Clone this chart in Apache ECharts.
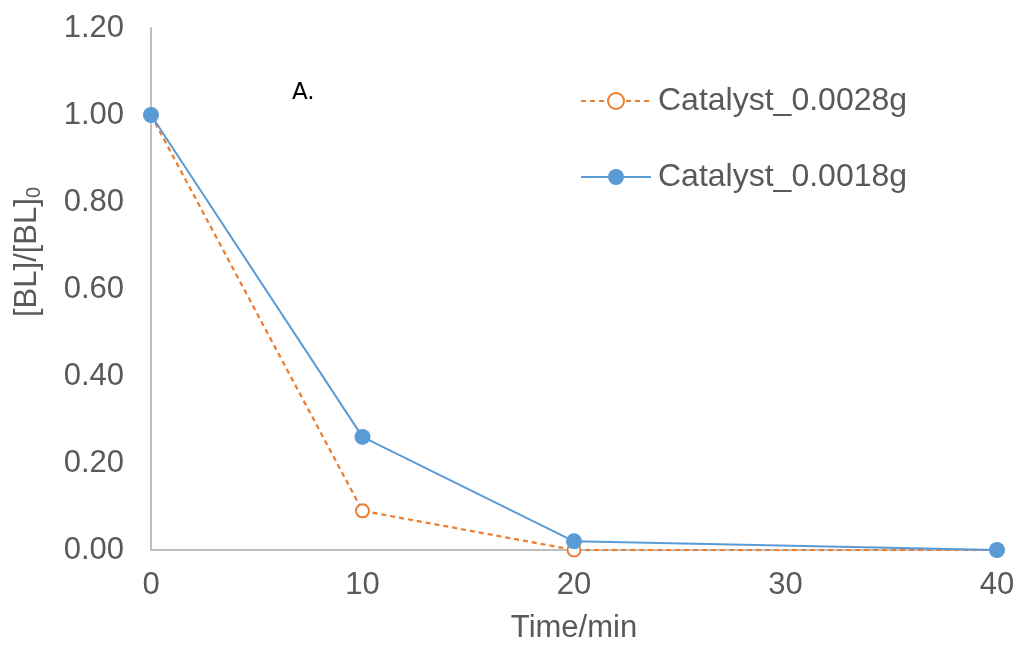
<!DOCTYPE html>
<html><head><meta charset="utf-8">
<script src="https://cdn.jsdelivr.net/npm/echarts@6/dist/echarts.min.js"></script>
<style>html,body{margin:0;padding:0;background:#fff}#c{width:1020px;height:649px}</style>
</head><body><div id="c"></div>
<script>
const timeMin = [0, 10, 20, 40];
const cat0028 = [1.00, 0.09, 0.00, 0.00];
const cat0018 = [1.00, 0.26, 0.02, 0.00];
const seriesNames = ['Catalyst_0.0028g', 'Catalyst_0.0018g'];
const xTicks = [0, 10, 20, 30, 40];
const yTicks = [0, 0.2, 0.4, 0.6, 0.8, 1.0, 1.2];

const chart = echarts.init(document.getElementById('c'));
const font = 'Liberation Sans, Arial, sans-serif';
const FS = 31;
chart.setOption({
  animation: false,
  textStyle: {fontFamily: font},
  grid: {left: 151, right: 23, top: 28, bottom: 99, containLabel: false},
  legend: {
    left: 575, top: 80, orient: 'vertical', itemGap: 44,
    itemWidth: 70, itemHeight: 20,
    textStyle: {fontSize: 32, color: '#595959', fontFamily: font, padding: [0,0,0,2]},
    data: seriesNames
  },
  graphic: [{type: 'text', left: 292, top: 82, style: {text: 'A.', fontSize: 23, fill: '#000', fontFamily: 'DejaVu Sans, sans-serif'}}],
  xAxis: {
    type: 'value', min: xTicks[0], max: xTicks[xTicks.length-1], interval: 10,
    name: 'Time/min', nameLocation: 'middle', nameGap: 63,
    nameTextStyle: {fontSize: FS, color: '#595959'},
    axisLine: {lineStyle: {color: '#BFBFBF', width: 2}},
    axisTick: {show: false}, splitLine: {show: false},
    axisLabel: {fontSize: FS, color: '#595959', margin: 20}
  },
  yAxis: {
    type: 'value', min: yTicks[0], max: yTicks[yTicks.length-1], interval: 0.2,
    name: '{a|[BL]/[BL]}{s|0}', nameLocation: 'middle', nameGap: 107, nameRotate: 90,
    nameTextStyle: {padding: [0,0,0,74], rich: {a: {fontSize: FS, color: '#595959', fontFamily: font}, s: {fontSize: 20, color: '#595959', fontFamily: font, verticalAlign: 'bottom', padding: [14,0,0,0]}}},
    axisLine: {show: true, lineStyle: {color: '#BFBFBF', width: 2}},
    axisTick: {show: false}, splitLine: {show: false},
    axisLabel: {fontSize: FS, color: '#595959', margin: 27, formatter: v => v.toFixed(2)}
  },
  series: [
    {name: seriesNames[0], type: 'line', data: timeMin.map((t,i)=>[t, cat0028[i]]),
     symbol: 'emptyCircle', symbolSize: 13,
     itemStyle: {color: '#ED7D31', borderWidth: 2, borderColor: '#ED7D31'},
     lineStyle: {color: '#ED7D31', width: 2.25, type: [5,4]}, z: 2},
    {name: seriesNames[1], type: 'line', data: timeMin.map((t,i)=>[t, cat0018[i]]),
     symbol: 'circle', symbolSize: 16,
     itemStyle: {color: '#5B9BD5'},
     lineStyle: {color: '#5B9BD5', width: 2}, z: 3}
  ]
});
</script></body></html>
